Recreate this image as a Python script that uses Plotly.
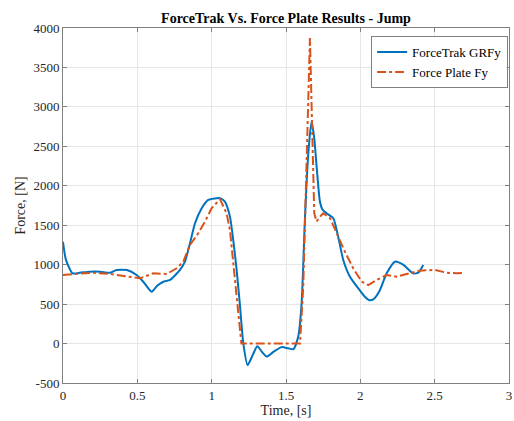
import plotly.graph_objects as go

# ForceTrak GRFy (blue)
blue_t = [0, 0.02, 0.065, 0.12, 0.18, 0.25, 0.316, 0.36, 0.43, 0.495, 0.54, 0.596, 0.635,
          0.675, 0.72, 0.787, 0.82, 0.854, 0.888, 0.933, 0.977, 1.02, 1.056, 1.089, 1.123,
          1.145, 1.168, 1.19, 1.213, 1.242, 1.275, 1.307, 1.34, 1.37, 1.42, 1.47, 1.515,
          1.55, 1.582, 1.605, 1.627, 1.65, 1.672, 1.69, 1.706, 1.728, 1.745, 1.773, 1.818,
          1.851, 1.885, 1.93, 1.986, 2.03, 2.06, 2.087, 2.13, 2.177, 2.233, 2.29, 2.355,
          2.39, 2.423]
blue_f = [1290, 1060, 890, 900, 911, 911, 898, 933, 933, 869, 784, 657, 735,
          784, 806, 933, 1038, 1271, 1525, 1716, 1821, 1840, 1843, 1800, 1609,
          1313, 933, 490, 0, -273, -150, -35, -110, -165, -100, -45, -60,
          -70, 86, 510, 1567, 2414, 2815, 2600, 2244, 1800, 1700, 1652, 1589,
          1355, 1060, 848, 700, 594, 550, 561, 670, 890, 1038, 996, 890,
          898, 996]

# Force Plate Fy (orange)
orange_t = [0, 0.1, 0.204, 0.316, 0.43, 0.518, 0.607, 0.697, 0.765, 0.809, 0.854, 0.91,
            0.955, 1.0, 1.056, 1.1, 1.123, 1.145, 1.172, 1.2, 1.3, 1.4, 1.5, 1.594, 1.616,
            1.639, 1.661, 1.69, 1.705, 1.725, 1.75, 1.796, 1.84, 1.896, 1.952, 2.01, 2.053,
            2.11, 2.177, 2.244, 2.33, 2.4, 2.5, 2.58, 2.647, 2.703]
orange_f = [870, 880, 898, 882, 848, 827, 890, 882, 954, 1038, 1250, 1398,
            1546, 1716, 1830, 1652, 1440, 1018, 510, 0, 0, 0, 0, 0, 721,
            2414, 3873, 1652, 1546, 1600, 1652, 1589, 1398, 1165, 954, 784, 742,
            806, 869, 848, 890, 924, 933, 898, 890, 898]

x_ticks = [0, 0.5, 1, 1.5, 2, 2.5, 3]
x_labels = ["0", "0.5", "1", "1.5", "2", "2.5", "3"]
y_ticks = [-500, 0, 500, 1000, 1500, 2000, 2500, 3000, 3500, 4000]
y_labels = ["-500", "0", "500", "1000", "1500", "2000", "2500", "3000", "3500", "4000"]

FONT = "Liberation Serif, Times New Roman, serif"

fig = go.Figure()
fig.add_trace(go.Scatter(x=blue_t, y=blue_f, mode="lines", name="ForceTrak GRFy",
                         line=dict(color="#0072BD", width=2, shape="spline", smoothing=0.6)))
fig.add_trace(go.Scatter(x=orange_t, y=orange_f, mode="lines", name="Force Plate Fy",
                         line=dict(color="#D95319", width=2, dash="dashdot")))

axis_common = dict(showgrid=True, gridcolor="#e6e6e6", gridwidth=1,
                   showline=True, linecolor="#808080", linewidth=1, mirror="ticks",
                   ticks="inside", ticklen=4, tickcolor="#808080", zeroline=False,
                   automargin=False, ticklabeloverflow="allow",
                   tickfont=dict(family=FONT, size=13, color="#262626"))

fig.update_layout(
    width=514, height=421,
    margin=dict(l=63, r=5, t=28, b=38),
    paper_bgcolor="white", plot_bgcolor="white",
    font=dict(family=FONT, color="#262626"),
    title=dict(text="<b>ForceTrak Vs. Force Plate Results - Jump</b>",
               font=dict(family=FONT, size=14, color="black"),
               x=0.5, xref="paper", xanchor="center",
               y=1 - 18 / 421, yref="container", yanchor="middle"),
    xaxis=dict(range=[0, 3], tickvals=x_ticks, ticktext=x_labels,
               title=dict(text="Time, [s]", font=dict(family=FONT, size=14, color="#262626"),
                          standoff=2),
               **axis_common),
    yaxis=dict(range=[-500, 4000], tickvals=y_ticks, ticktext=y_labels,
               title=dict(text="Force, [N]", font=dict(family=FONT, size=14, color="#262626"),
                          standoff=4),
               **axis_common),
    legend=dict(x=0.998, xanchor="right", y=0.977, yanchor="top",
                bgcolor="white", bordercolor="#808080", borderwidth=1,
                font=dict(family=FONT, size=13, color="black"),
                itemwidth=30, tracegroupgap=0),
    showlegend=True,
)

fig.write_html("out.html",
               config={"displayModeBar": False},
               post_script="document.body.style.margin='0';document.body.style.overflow='hidden';")
